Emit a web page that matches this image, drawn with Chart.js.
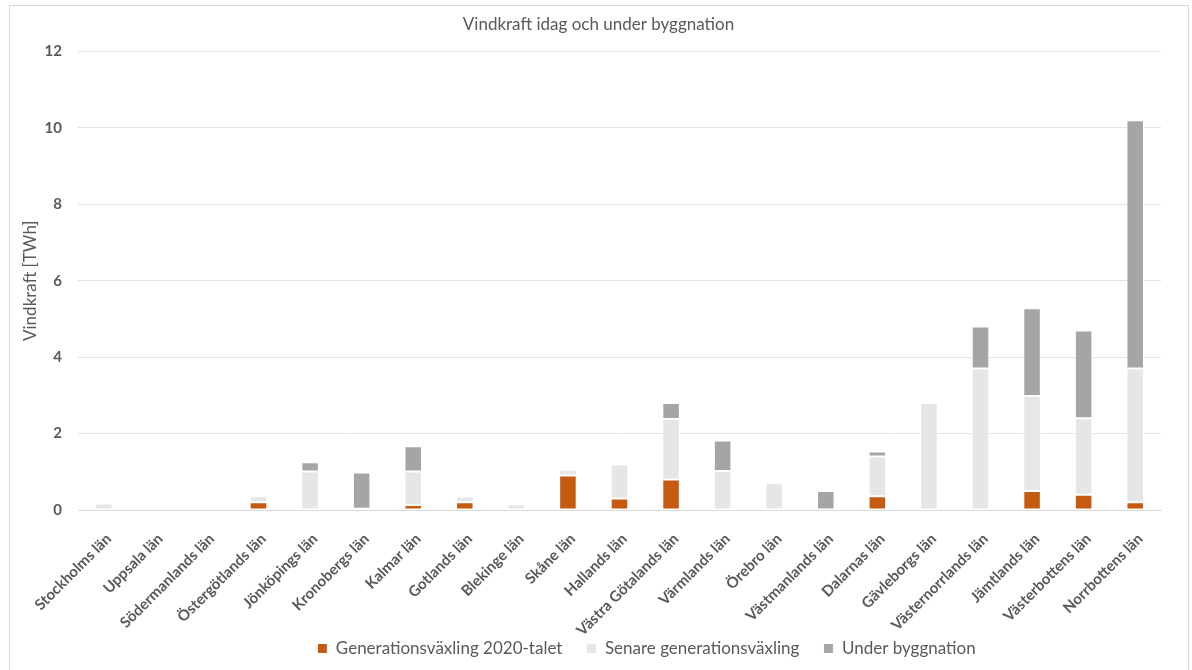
<!DOCTYPE html>
<html>
<head>
<meta charset="utf-8">
<script src="https://cdn.jsdelivr.net/npm/chart.js@4.4.1/dist/chart.umd.min.js"></script>
<style>
  html, body { margin: 0; padding: 0; background: #ffffff; }
  #wrap { width: 1192px; height: 670px; position: relative; }
</style>
</head>
<body>
<div id="wrap"><canvas id="c" width="1192" height="670"></canvas></div>
<script>
// Counties (län) along the x axis
const categories = [
  'Stockholms län', 'Uppsala län', 'Södermanlands län', 'Östergötlands län',
  'Jönköpings län', 'Kronobergs län', 'Kalmar län', 'Gotlands län',
  'Blekinge län', 'Skåne län', 'Hallands län', 'Västra Götalands län',
  'Värmlands län', 'Örebro län', 'Västmanlands län', 'Dalarnas län',
  'Gävleborgs län', 'Västernorrlands län', 'Jämtlands län',
  'Västerbottens län', 'Norrbottens län'
];

// Wind power in TWh per county
const generation2020 = [0, 0, 0, 0.2, 0, 0, 0.13, 0.2, 0, 0.9, 0.3, 0.8, 0, 0, 0, 0.36, 0, 0, 0.5, 0.4, 0.2];
const laterGeneration = [0.17, 0.03, 0.02, 0.16, 1.01, 0.03, 0.88, 0.15, 0.15, 0.15, 0.89, 1.58, 1.02, 0.7, 0, 1.04, 2.8, 3.7, 2.48, 2.0, 3.5];
const underConstruction = [0, 0, 0, 0, 0.24, 0.95, 0.66, 0, 0, 0, 0, 0.42, 0.8, 0.04, 0.5, 0.13, 0, 1.1, 2.3, 2.3, 6.5];

const seriesNames = ['Generationsväxling 2020-talet', 'Senare generationsväxling', 'Under byggnation'];
const yTicks = [0, 2, 4, 6, 8, 10, 12];

const FONT = 'Lato, "Open Sans", sans-serif';
const TEXT = '#595959';

// Thin frame around the whole chart
const framePlugin = {
  id: 'frame',
  beforeDraw(chart) {
    const ctx = chart.ctx;
    ctx.save();
    ctx.fillStyle = '#ffffff';
    ctx.fillRect(0, 0, chart.width, chart.height);
    ctx.strokeStyle = '#D9D9D9';
    ctx.lineWidth = 1;
    ctx.strokeRect(9.5, 5.5, 1179, 700);
    ctx.restore();
  }
};

// Placement of the title and legend blocks
const blockShiftPlugin = {
  id: 'blockShift',
  afterLayout(chart) {
    const t = chart.titleBlock;
    if (t) { t.left += 8; t.right += 8; }
    const lg = chart.legend;
    if (lg) {
      lg.left += 56; lg.right += 56;
      const h = lg.bottom - lg.top;
      lg.top = 616; lg.bottom = 616 + h;
    }
  }
};

const bar = (label, data, color) => ({
  label, data,
  backgroundColor: color,
  borderColor: '#ffffff',
  borderWidth: 1,
  borderSkipped: false,
  barPercentage: 0.34,
  categoryPercentage: 1.0
});

new Chart(document.getElementById('c'), {
  type: 'bar',
  data: {
    labels: categories,
    datasets: [
      bar(seriesNames[0], generation2020, '#C55A11'),
      bar(seriesNames[1], laterGeneration, '#E7E6E6'),
      bar(seriesNames[2], underConstruction, '#A5A5A5')
    ]
  },
  options: {
    responsive: false,
    animation: false,
    layout: { padding: { left: 20, right: 31, top: 8, bottom: -31 } },
    plugins: {
      title: {
        display: true,
        text: 'Vindkraft idag och under byggnation',
        color: TEXT,
        font: { family: FONT, size: 17, weight: 'normal' },
        padding: { top: 6, bottom: 17 }
      },
      legend: {
        position: 'bottom',
        labels: {
          color: TEXT,
          font: { family: FONT, size: 17 },
          boxWidth: 10,
          boxHeight: 10,
          padding: 24
        }
      },
      tooltip: { enabled: false }
    },
    scales: {
      x: {
        stacked: true,
        grid: { display: false, drawTicks: false },
        border: { display: true, color: '#D9D9D9', width: 1 },
        ticks: {
          color: TEXT,
          font: { family: FONT, size: 15, weight: 'bold' },
          minRotation: 45,
          maxRotation: 45,
          padding: 20,
          labelOffset: 5,
          autoSkip: false
        },
        afterFit(scale) { scale.height = 140; }
      },
      y: {
        stacked: true,
        min: 0,
        max: 12,
        afterBuildTicks(scale) { scale.ticks = yTicks.map(v => ({ value: v })); },
        grid: { color: '#E3E3E3', drawTicks: false },
        border: { display: false },
        ticks: {
          color: TEXT,
          font: { family: FONT, size: 15, weight: 'bold' },
          padding: 16
        },
        title: {
          display: true,
          text: 'Vindkraft [TWh]',
          color: TEXT,
          font: { family: FONT, size: 17, weight: 'normal' },
          padding: { top: 0, bottom: 4 }
        },
        afterFit(scale) { scale.width = 58; }
      }
    }
  },
  plugins: [framePlugin, blockShiftPlugin]
});
</script>
</body>
</html>
